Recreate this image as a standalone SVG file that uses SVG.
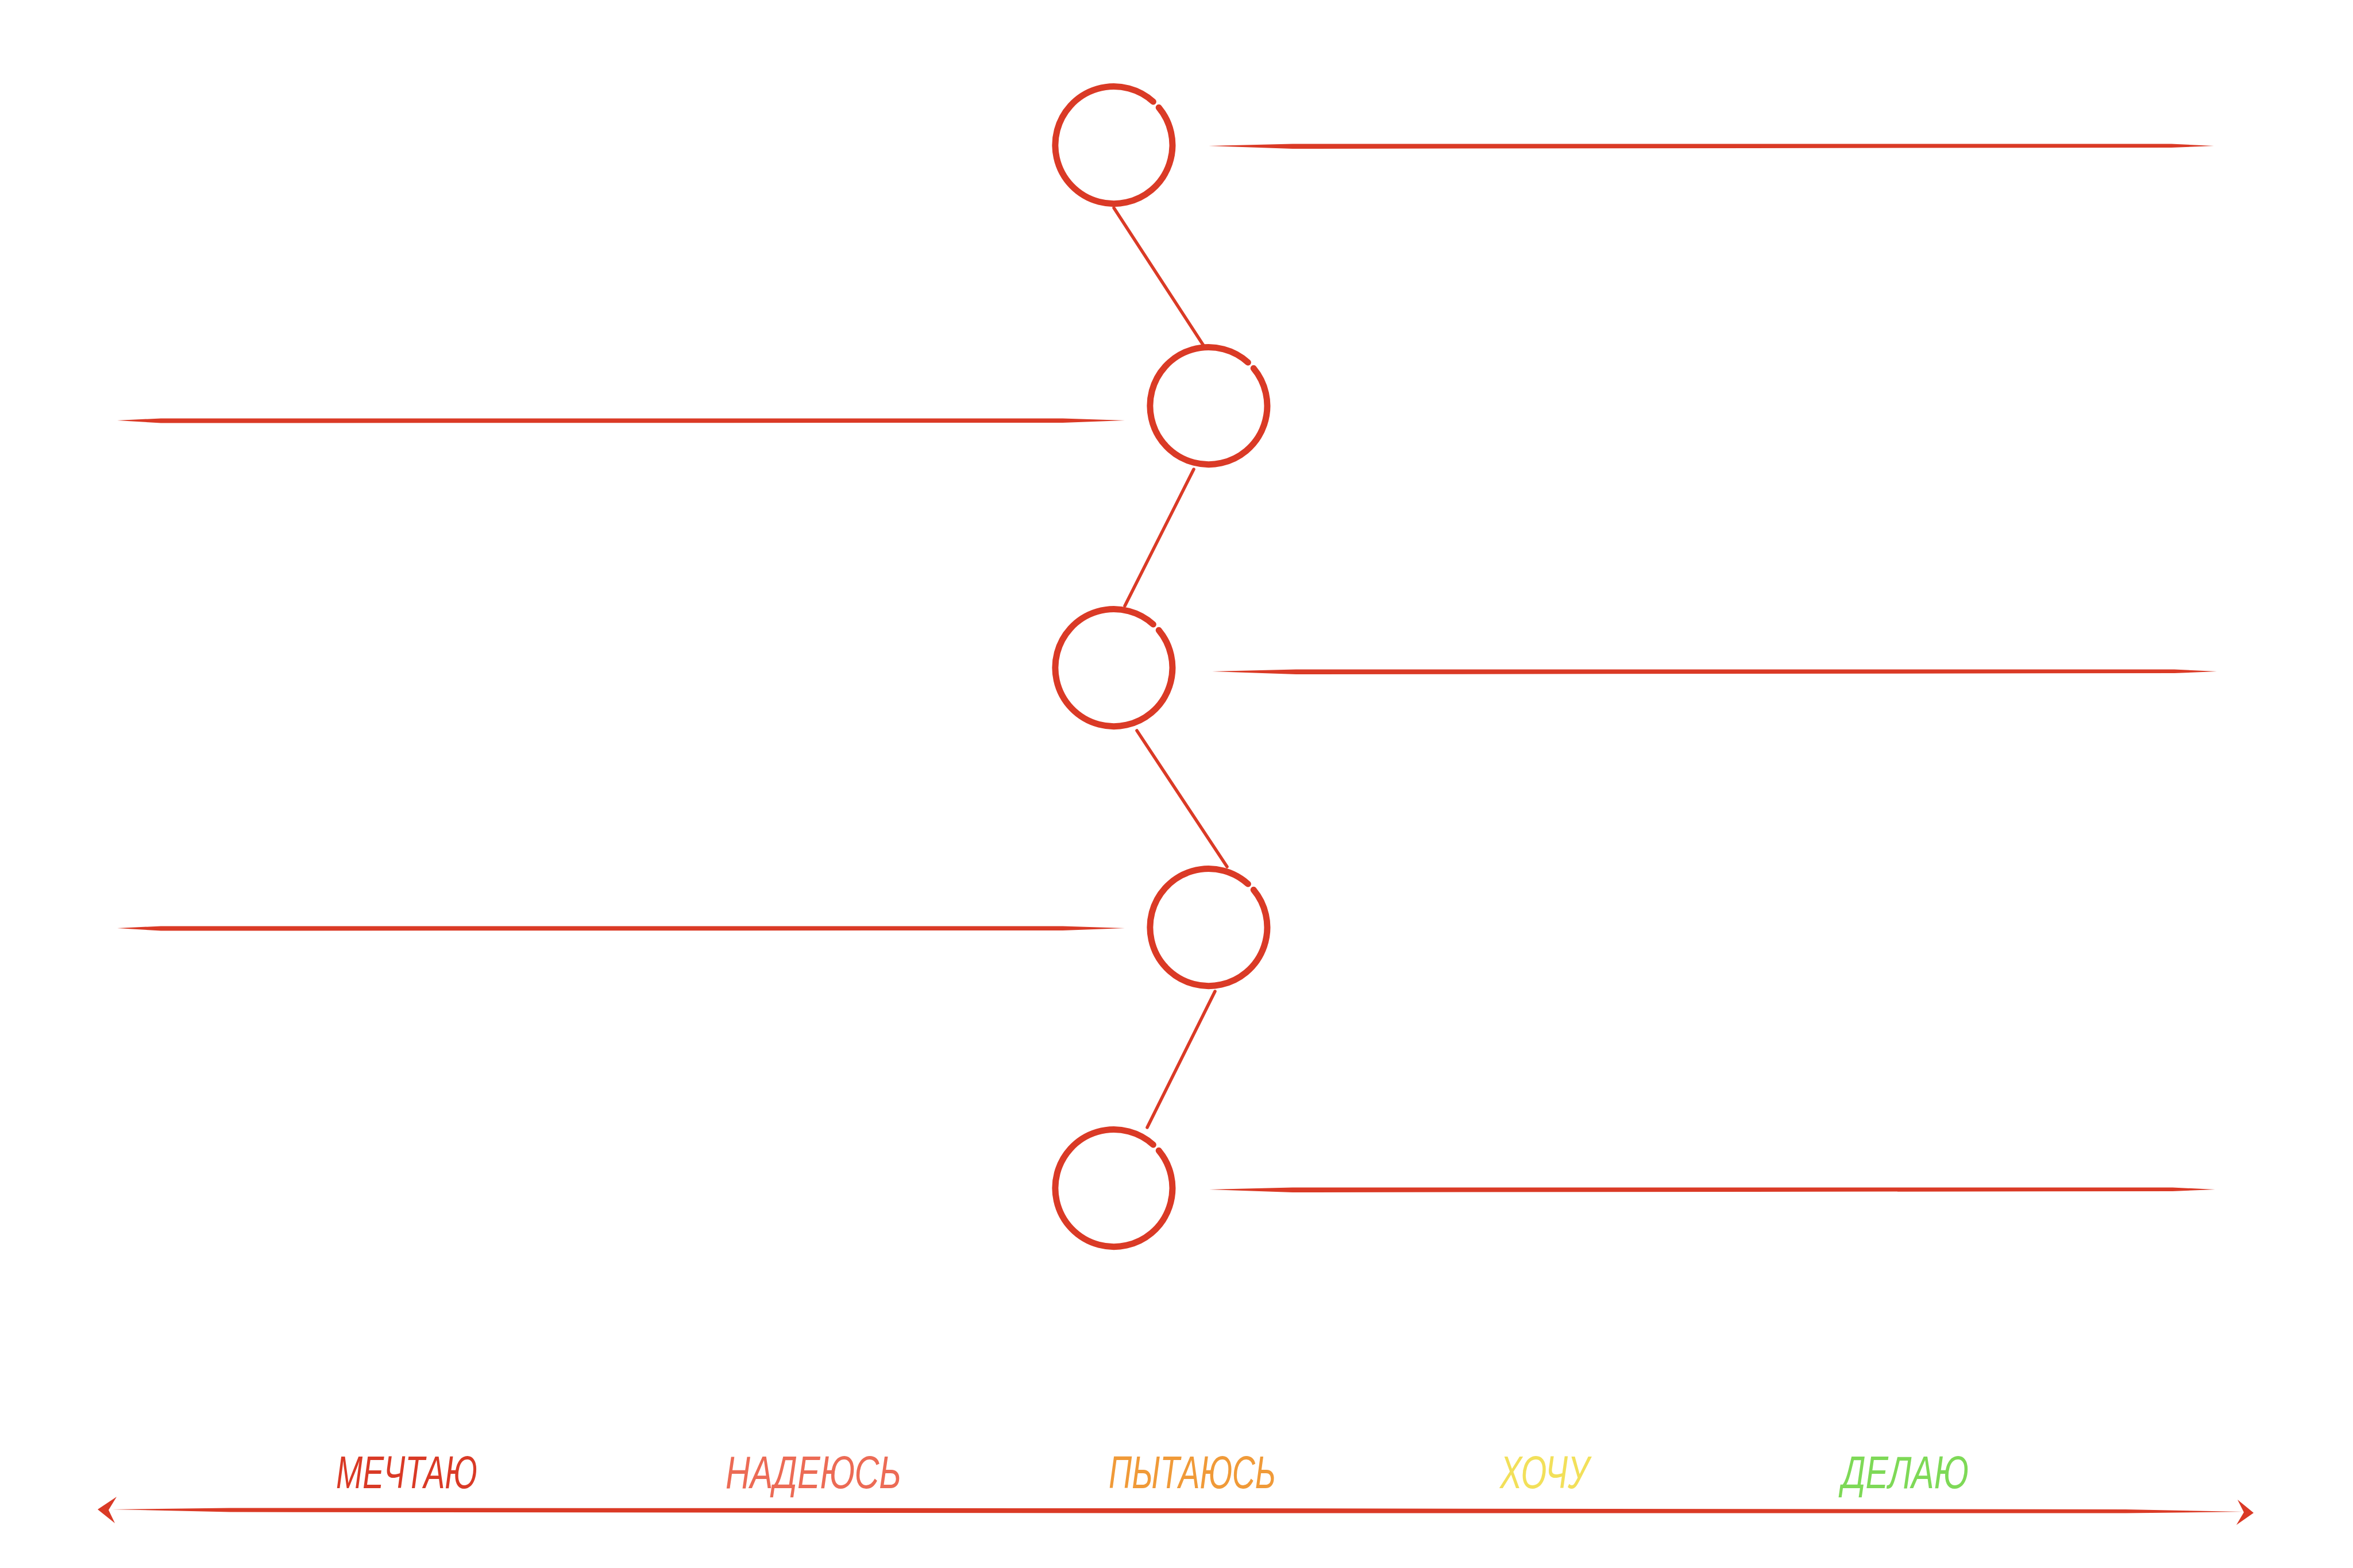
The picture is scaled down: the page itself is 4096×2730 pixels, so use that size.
<svg xmlns="http://www.w3.org/2000/svg" width="4096" height="2730" viewBox="0 0 4096 2730">
<style>
.ring{fill:none;stroke:#da3a26;stroke-width:11;stroke-linecap:round}
.link{fill:none;stroke:#da3a26;stroke-width:5.5;stroke-linecap:round}
.bar{fill:#da3a26}
.lbl{font-family:"Liberation Sans",Arial,sans-serif;font-size:80px;font-style:italic;font-weight:400}
</style>
<rect width="4096" height="2730" fill="#ffffff"/>
<g id="connectors">
<line class="link" x1="1939" y1="362" x2="2096" y2="603"/>
<line class="link" x1="2078" y1="817" x2="1958" y2="1055"/>
<line class="link" x1="1979" y1="1272" x2="2136" y2="1509"/>
<line class="link" x1="2115" y1="1726" x2="1997" y2="1963"/>
<path class="bar" d="M2104 254 L2250 250.5 L3780 250.5 L3854 254 L3780 257 L2250 259 Z"/>
<path class="bar" d="M204 732 L280 728.5 L1850 728.5 L1958 732 L1850 736 L280 736.5 Z"/>
<path class="bar" d="M2110 1169 L2256 1165.5 L3785 1165.5 L3859 1169 L3785 1172 L2256 1174 Z"/>
<path class="bar" d="M204 1616 L280 1612.5 L1850 1612.5 L1958 1616 L1850 1620 L280 1620.5 Z"/>
<path class="bar" d="M2105 2071 L2250 2067.5 L3782 2067.5 L3856 2071 L3782 2074 L2250 2076 Z"/>
</g>
<g id="node-1"><path class="ring" d="M2017.2 187.2 A102 102 0 1 1 2007.4 177.0"/></g>
<g id="node-2"><path class="ring" d="M2182.2 641.2 A102 102 0 1 1 2172.4 631.0"/></g>
<g id="node-3"><path class="ring" d="M2017.2 1097.2 A102 102 0 1 1 2007.4 1087.0"/></g>
<g id="node-4"><path class="ring" d="M2182.2 1549.2 A102 102 0 1 1 2172.4 1539.0"/></g>
<g id="node-5"><path class="ring" d="M2017.2 2003.2 A102 102 0 1 1 2007.4 1993.0"/></g>
<g id="axis">
<path class="bar" d="M195 2628 L400 2625.5 L2000 2626 L3700 2628 L3905 2632 L3700 2634.5 L2000 2634.5 L400 2632.5 Z"/>
<polygon class="bar" points="170,2628 203,2606 189,2629 200,2652"/>
<polygon class="bar" points="3923,2634 3895,2611 3906,2633 3893,2655"/>
</g>
<g id="labels">
<text class="lbl" x="585" y="2591" fill="#d93a26" textLength="246" lengthAdjust="spacingAndGlyphs">МЕЧТАЮ</text>
<text class="lbl" x="1263" y="2591" fill="#ec6b55" textLength="306" lengthAdjust="spacingAndGlyphs">НАДЕЮСЬ</text>
<text class="lbl" x="1930" y="2591" fill="#f09a38" textLength="291" lengthAdjust="spacingAndGlyphs">ПЫТАЮСЬ</text>
<text class="lbl" x="2611" y="2591" fill="#f2e05a" textLength="155" lengthAdjust="spacingAndGlyphs">ХОЧУ</text>
<text class="lbl" x="3206" y="2591" fill="#7ed957" textLength="221" lengthAdjust="spacingAndGlyphs">ДЕЛАЮ</text>
</g>
</svg>
